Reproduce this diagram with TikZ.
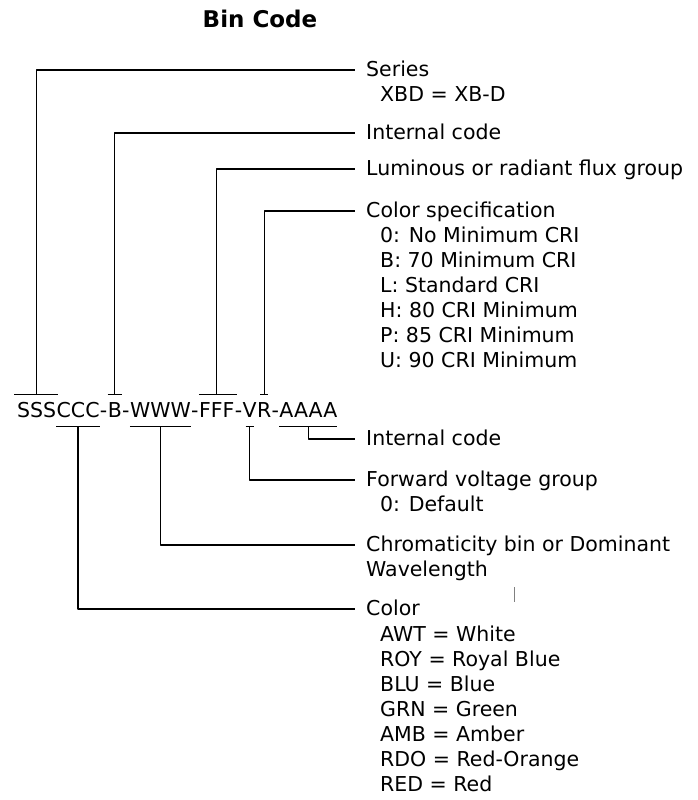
\documentclass[tikz,border=0pt]{standalone}
\usepackage{fontspec}
\setmainfont{DejaVu Sans}
\usetikzlibrary{positioning}

\begin{document}
\begin{tikzpicture}[x=1pt, y=-1pt, line join=round]
   % Styles
   \tikzset{
    code/.style={anchor=base west, inner xsep=0pt, inner ysep=7pt, text height=15pt, text depth=2pt, font=\fontsize{20.5}{25}\selectfont},
    lbl/.style={anchor=west, inner xsep=11pt, inner ysep=0pt, text height=12.5pt, text depth=0pt, font=\fontsize{20.5}{25}\selectfont},
    sub/.style={anchor=west, inner sep=0pt, text height=12.5pt, text depth=0pt, font=\fontsize{20.5}{25}\selectfont},
    link/.style={line width=1.3pt, black},
    title/.style={font=\bfseries\fontsize{23}{28}\selectfont}
   }
  \useasboundingbox (0,0) rectangle (698,800);
  % Title
  \node[title] (title) at (260,19) {Bin Code};
  % Code string
  \node[code] (sss) at (17,417) {SSS};
  \node[code] (ccc) at (sss.base east) {CCC};
  \node[code] (d1) at (ccc.base east) {-};
  \node[code] (b) at (d1.base east) {B};
  \node[code] (d2) at (b.base east) {-};
  \node[code] (www) at (d2.base east) {WWW};
  \node[code] (d3) at (www.base east) {-};
  \node[code] (fff) at (d3.base east) {FFF};
  \node[code] (d4) at (fff.base east) {-};
  \node[code] (v) at (d4.base east) {V};
  \node[code] (r) at (v.base east) {R};
  \node[code] (d5) at (r.base east) {-};
  \node[code] (aaaa) at (d5.base east) {AAAA};
  % Labels above
  \node[lbl] (series) at (355,70) {Series};
  \node[sub] (seriesval) at (380,95) {XBD = XB-D};
  \node[lbl] (intcode) at (355,133) {Internal code};
  \node[lbl] (flux) at (355,169) {Luminous or radiant flux group};
  \node[lbl] (colspec) at (355,211) {Color specification};
  \node[sub] (cri0) at (380,236) {0: No Minimum CRI};
  \node[sub] (crib) at (380,261) {B: 70 Minimum CRI};
  \node[sub] (cril) at (380,286) {L: Standard CRI};
  \node[sub] (crih) at (380,311) {H: 80 CRI Minimum};
  \node[sub] (crip) at (380,336) {P: 85 CRI Minimum};
  \node[sub] (criu) at (380,361) {U: 90 CRI Minimum};
  % Labels below
  \node[lbl] (intcodeb) at (355,439) {Internal code};
  \node[lbl] (fwd) at (355,480) {Forward voltage group};
  \node[sub] (fwddef) at (380,505) {0: Default};
  \node[lbl] (chroma) at (355,545) {Chromaticity bin or Dominant};
  \node[sub] (chromab) at (366,570) {Wavelength};
  \node[lbl] (color) at (355,609) {Color};
  \node[sub] (awt) at (380,635) {AWT = White};
  \node[sub] (roy) at (380,660) {ROY = Royal Blue};
  \node[sub] (blu) at (380,685) {BLU = Blue};
  \node[sub] (grn) at (380,710) {GRN = Green};
  \node[sub] (amb) at (380,735) {AMB = Amber};
  \node[sub] (rdo) at (380,760) {RDO = Red-Orange};
  \node[sub] (red) at (380,785) {RED = Red};
  % Brackets
  \draw[link] ([xshift=-3pt]sss.north west) -- ([xshift=2pt]sss.north east);
  \draw[link] (b.north west) -- (b.north east);
  \draw[link] (fff.north west) -- ([xshift=2pt]fff.north east);
  \draw[link] ([xshift=-4pt]r.north) -- ([xshift=4pt]r.north);
  \draw[link] (ccc.south west) -- (ccc.south east);
  \draw[link] (www.south west) -- (www.south east);
  \draw[link] ([xshift=-4pt]v.south) -- ([xshift=4pt]v.south);
  \draw[link] (aaaa.south west) -- (aaaa.south east);
  % Connectors
  \draw[link] (sss.north) |- (series.west);
  \draw[link] (b.north) |- (intcode.west);
  \draw[link] (fff.north) |- (flux.west);
  \draw[link] (r.north) |- (colspec.west);
  \draw[link] (aaaa.south) |- (intcodeb.west);
  \draw[link] (v.south) |- (fwd.west);
  \draw[link] (www.south) |- (chroma.west);
  \draw[link] (ccc.south) |- (color.west);
  % stray tick
  \draw[gray, line width=0.8pt] (514,587) -- (514,602);
\end{tikzpicture}
\end{document}
